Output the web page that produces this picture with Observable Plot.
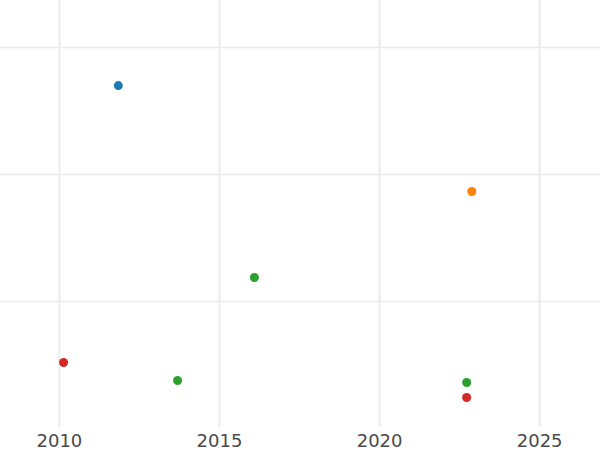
<!DOCTYPE html>
<html>
<head>
<meta charset="utf-8">
<script src="https://cdn.jsdelivr.net/npm/d3@7"></script>
<script src="https://cdn.jsdelivr.net/npm/@observablehq/plot@0.6"></script>
<style>
  html, body { margin: 0; padding: 0; background: #fff; }
</style>
</head>
<body>
<div id="chart"></div>
<script>
const years = [2011.84, 2022.88, 2016.09, 2013.69, 2022.72, 2010.13, 2022.72];
const values = [27.0, 18.66, 11.89, 3.78, 3.62, 5.2, 2.44];
const groups = ["A", "B", "C", "C", "C", "D", "D"];
const groupNames = ["A", "B", "C", "D"];
const groupColors = ["#1f77b4", "#ff7f0e", "#2ca02c", "#d62728"];
const xTicks = [2010, 2015, 2020, 2025];
const yTicks = [10, 20, 30];

const data = years.map((y, i) => ({year: y, value: values[i], group: groups[i]}));

const chart = Plot.plot({
  width: 600,
  height: 450,
  marginTop: 0,
  marginRight: 0,
  marginLeft: 0,
  marginBottom: 23,
  style: {fontFamily: "DejaVu Sans", fontSize: "16px", color: "#444", background: "#fff"},
  x: {domain: [2008.16, 2026.9], ticks: xTicks, tickFormat: d => String(d), label: null, axis: null},
  y: {domain: [0.08, 33.7], ticks: yTicks, label: null, axis: null},
  color: {domain: groupNames, range: groupColors},
  marks: [
    Plot.gridX(xTicks, {stroke: "#ebebeb", strokeOpacity: 1, strokeWidth: 2}),
    Plot.gridY(yTicks, {stroke: "#ebebeb", strokeOpacity: 1, strokeWidth: 1.5}),
    Plot.axisX(xTicks, {tickSize: 0, tickPadding: 7, fontSize: 18, fill: "#4a4a4a", tickFormat: d => String(d)}),
    Plot.dot(data, {x: "year", y: "value", fill: "group", r: 4.5, stroke: null})
  ]
});
document.getElementById("chart").appendChild(chart);
</script>
</body>
</html>
